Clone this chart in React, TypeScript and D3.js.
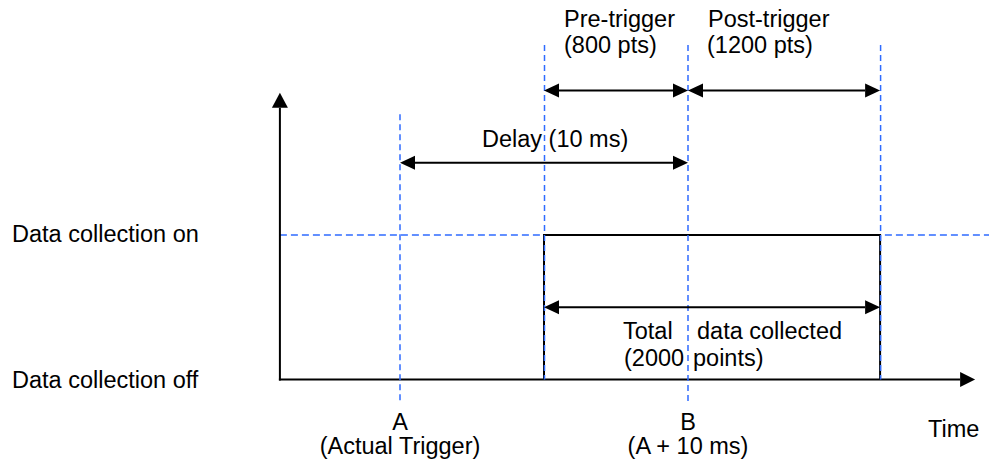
import React from "react";
import * as d3 from "d3";

// ---- data (schematic time in ms, signal levels) ----
const markerNames = ["A", "preStart", "B", "postEnd"];
const markerTimes = [0, 5, 10, 16.67]; // ms
const axisStartTime = -4.17;
const axisEndTime = 19.97;
const offLevel = 0;
const onLevel = 1;

const spanLabels = ["Pre-trigger", "Post-trigger", "Delay (10 ms)", "Total data collected"];
const spanFrom = ["preStart", "B", "A", "preStart"];
const spanTo = ["B", "postEnd", "B", "postEnd"];
const spanLevels = [2, 2, 1.5, 0.5];

const levelLabels = ["Data collection on", "Data collection off"];
const bottomLabels = ["A", "(Actual Trigger)", "B", "(A + 10 ms)"];

const W = 989;
const H = 464;
const FONT = "'Liberation Sans', Arial, sans-serif";
const FS = 23.5;
const BLUE = "#2f6bff";

export default function App() {
  const x = d3.scaleLinear().domain([0, 10]).range([400, 688]);
  const y = d3.scaleLinear().domain([0, 1]).range([379.5, 235]);
  const t = (n: string) => markerTimes[markerNames.indexOf(n)];
  const X = (n: string) => x(t(n));

  const x0 = x(axisStartTime);
  const xEnd = x(axisEndTime);
  const yOff = y(offLevel);
  const yOn = y(onLevel);
  const yTop = y(1.985);

  const AH = 15; // arrow length
  const AW = 7; // half width

  const lineGen = d3.line<[number, number]>();

  const hArrow = (x1: number, x2: number, yy: number, key: string) => (
    <g key={key}>
      <line x1={x1 + AH} x2={x2 - AH} y1={yy} y2={yy} stroke="#000" strokeWidth={2} />
      <path d={`M${x1},${yy}L${x1 + AH},${yy - AW}L${x1 + AH},${yy + AW}Z`} fill="#000" />
      <path d={`M${x2},${yy}L${x2 - AH},${yy - AW}L${x2 - AH},${yy + AW}Z`} fill="#000" />
    </g>
  );

  const pulse: [number, number][] = [
    [X("preStart"), yOff],
    [X("preStart"), yOn],
    [X("postEnd"), yOn],
    [X("postEnd"), yOff],
  ];

  // dashed verticals: [marker, top level, bottom level]
  const dashTops: Record<string, number> = { A: 1.835, preStart: 2.315, B: 2.315, postEnd: 2.315 };
  const dashBottoms: Record<string, number> = { A: -0.155, preStart: 0, B: -0.155, postEnd: 0 };

  const textStyle = { fontFamily: FONT, fontSize: FS, fill: "#000" } as const;

  return (
    <svg
      width={W}
      height={H}
      style={{ position: "fixed", left: 0, top: 0, background: "#fff" }}
      viewBox={`0 0 ${W} ${H}`}
    >
      <rect width={W} height={H} fill="#fff" />
      {/* horizontal dashed "on" line */}
      <line x1={x0} x2={W} y1={yOn} y2={yOn} stroke={BLUE} strokeWidth={1.5} strokeDasharray="7,4" />
      {/* axes */}
      <line x1={x0} x2={x0} y1={yOff + 1} y2={yTop + AH} stroke="#000" strokeWidth={2} />
      <path d={`M${x0},${yTop}L${x0 - 8},${yTop + AH}L${x0 + 8},${yTop + AH}Z`} fill="#000" />
      <line x1={x0 - 1} x2={xEnd - AH} y1={yOff} y2={yOff} stroke="#000" strokeWidth={2} />
      <path d={`M${xEnd},${yOff}L${xEnd - AH},${yOff - 7.5}L${xEnd - AH},${yOff + 7.5}Z`} fill="#000" />
      {/* pulse */}
      <path d={lineGen(pulse) || ""} fill="none" stroke="#000" strokeWidth={2} />
      {/* dashed verticals */}
      {markerNames.map((n) => (
        <line
          key={n}
          x1={X(n) + (n === "preStart" || n === "postEnd" ? 0.5 : 0)}
          x2={X(n) + (n === "preStart" || n === "postEnd" ? 0.5 : 0)}
          y1={y(dashTops[n])}
          y2={y(dashBottoms[n])}
          stroke={BLUE}
          strokeWidth={1.5}
          strokeDasharray="6,4"
        />
      ))}
      {/* span arrows */}
      {spanLabels.map((l, i) => hArrow(X(spanFrom[i]), X(spanTo[i]), y(spanLevels[i]), l))}
      {/* span texts */}
      <text x={564} y={27} style={textStyle}>Pre-trigger</text>
      <text x={564} y={53} style={textStyle}>(800 pts)</text>
      <text x={708} y={27} style={textStyle}>Post-trigger</text>
      <text x={707} y={53} style={textStyle}>(1200 pts)</text>
      <text x={482} y={147} style={textStyle}>{spanLabels[2]}</text>
      <text x={623} y={339} style={textStyle}>Total</text>
      <text x={697} y={339} style={textStyle}>data collected</text>
      <text x={624} y={366} style={textStyle}>(2000</text>
      <text x={693} y={366} style={textStyle}>points)</text>
      {/* level labels */}
      <text x={12} y={yOn + 7} style={textStyle}>{levelLabels[0]}</text>
      <text x={12} y={yOff + 8} style={textStyle}>{levelLabels[1]}</text>
      {/* bottom labels */}
      <text x={X("A")} y={430} textAnchor="middle" style={textStyle}>{bottomLabels[0]}</text>
      <text x={X("A")} y={454} textAnchor="middle" style={textStyle}>{bottomLabels[1]}</text>
      <text x={X("B")} y={430} textAnchor="middle" style={textStyle}>{bottomLabels[2]}</text>
      <text x={X("B")} y={454} textAnchor="middle" style={textStyle}>{bottomLabels[3]}</text>
      <text x={928} y={437} style={textStyle}>Time</text>
    </svg>
  );
}
